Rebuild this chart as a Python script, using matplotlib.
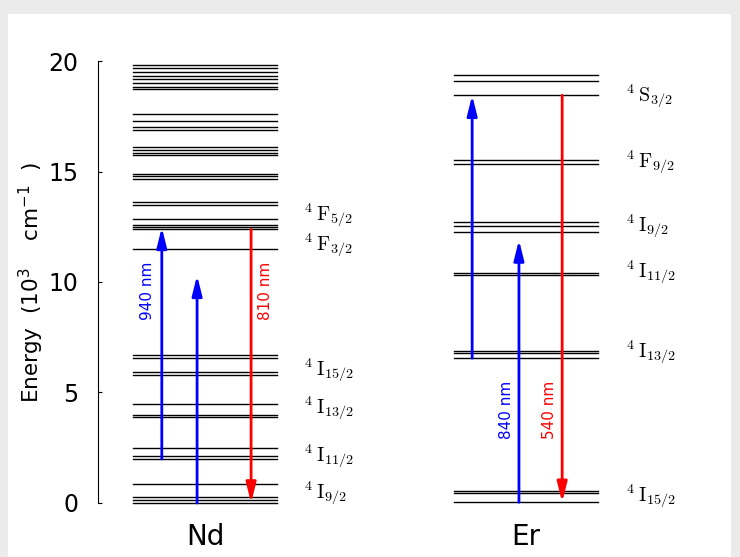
import matplotlib
matplotlib.use("Agg")
import matplotlib.pyplot as plt
from matplotlib.patches import Rectangle

plt.rcParams['mathtext.fontset'] = 'cm'

# ---- data ----
nd_levels = [0.0, 0.14, 0.27, 0.85, 1.99, 2.13, 2.47, 3.9, 4.0, 4.47,
             5.79, 5.94, 6.55, 6.7, 11.48, 12.38, 12.47, 12.58, 12.84,
             13.5, 13.6, 14.65, 14.8, 14.89, 15.75, 15.85, 15.97, 16.1,
             16.88, 17.03, 17.29, 17.59, 18.72, 18.84, 18.99, 19.17,
             19.32, 19.52, 19.67, 19.82]
er_levels = [0.03, 0.44, 0.54, 6.55, 6.77, 6.88, 10.32, 10.42, 12.28,
             12.55, 12.73, 15.32, 15.52, 18.45, 19.1, 19.37]

nd_labels = [r'$^4\,\mathrm{F}_{5/2}$', r'$^4\,\mathrm{F}_{3/2}$',
             r'$^4\,\mathrm{I}_{15/2}$', r'$^4\,\mathrm{I}_{13/2}$',
             r'$^4\,\mathrm{I}_{11/2}$', r'$^4\,\mathrm{I}_{9/2}$']
nd_label_y = [13.0, 11.65, 6.0, 4.3, 2.1, 0.45]
er_labels = [r'$^4\,\mathrm{S}_{3/2}$', r'$^4\,\mathrm{F}_{9/2}$',
             r'$^4\,\mathrm{I}_{9/2}$', r'$^4\,\mathrm{I}_{11/2}$',
             r'$^4\,\mathrm{I}_{13/2}$', r'$^4\,\mathrm{I}_{15/2}$']
er_label_y = [18.4, 15.4, 12.5, 10.45, 6.8, 0.3]

# transitions: (x within ion block, start, end, colour)
nd_arrows = [(0.20, 1.99, 12.47, 'blue'), (0.445, 0.0, 10.3, 'blue'),
             (0.82, 12.38, 0.0, 'red')]
er_arrows = [(0.125, 6.55, 18.45, 'blue'), (0.45, 0.03, 11.9, 'blue'),
             (0.75, 18.45, 0.03, 'red')]
nd_arrow_text = [(0.10, 9.6, '940 nm', 'blue'), (0.92, 9.6, '810 nm', 'red')]
er_arrow_text = [(0.365, 4.2, '840 nm', 'blue'), (0.665, 4.2, '540 nm', 'red')]

ions = ['Nd', 'Er']
ion_x0 = [0.0, 2.23]

# ---- figure ----
fig = plt.figure(figsize=(7.40, 5.57), dpi=100, facecolor='#ebebeb')
fig.patches.append(Rectangle((8/740, 0), (731-8)/740, (557-14)/557,
                             transform=fig.transFigure, facecolor='white',
                             edgecolor='none', zorder=-10))
ax = fig.add_axes([98/740, 0.0851, (720-98)/740, 0.8133])
ax.set_facecolor('none')
ax.set_zorder(1)

for x0, levels in zip(ion_x0, [nd_levels, er_levels]):
    for e in levels:
        ax.plot([x0, x0 + 1.0], [e, e], color='black', lw=1.0, zorder=2)

for x0, arrows in zip(ion_x0, [nd_arrows, er_arrows]):
    for xa, y1, y2, c in arrows:
        ax.annotate('', xy=(x0 + xa, y2), xytext=(x0 + xa, y1),
                    arrowprops=dict(arrowstyle='-|>,head_length=0.6,head_width=0.15',
                                    color=c, lw=2, shrinkA=0, shrinkB=0,
                                    mutation_scale=20), zorder=3)

for x0, texts in zip(ion_x0, [nd_arrow_text, er_arrow_text]):
    for xt, yt, s, c in texts:
        ax.text(x0 + xt, yt, s, color=c, rotation=90, ha='center',
                va='center', fontsize=11)

for x0, labs, ys in zip(ion_x0, [nd_labels, er_labels], [nd_label_y, er_label_y]):
    for s, y in zip(labs, ys):
        ax.text(x0 + 1.19, y, s, ha='left', va='center', fontsize=14.5)

ax.set_xlim(-0.243, 4.076)
ax.set_ylim(-0.3, 20.2)
ax.set_yticks([0, 5, 10, 15, 20])
ax.tick_params(axis='y', direction='in', length=3, labelsize=17, pad=14)
ax.set_xticks([x0 + 0.5 for x0 in ion_x0])
ax.set_xticklabels(ions, fontsize=20)
ax.tick_params(axis='x', length=0, pad=10)
for s in ['top', 'right', 'bottom']:
    ax.spines[s].set_visible(False)
ax.spines['left'].set_bounds(0, 20)
ax.set_ylabel(r'Energy  (10$^3$    cm$^{-1}$  )', fontsize=15.5, labelpad=2,
              math_fontfamily='dejavusans')

fig.savefig('out.png', dpi=100, facecolor=fig.get_facecolor())
